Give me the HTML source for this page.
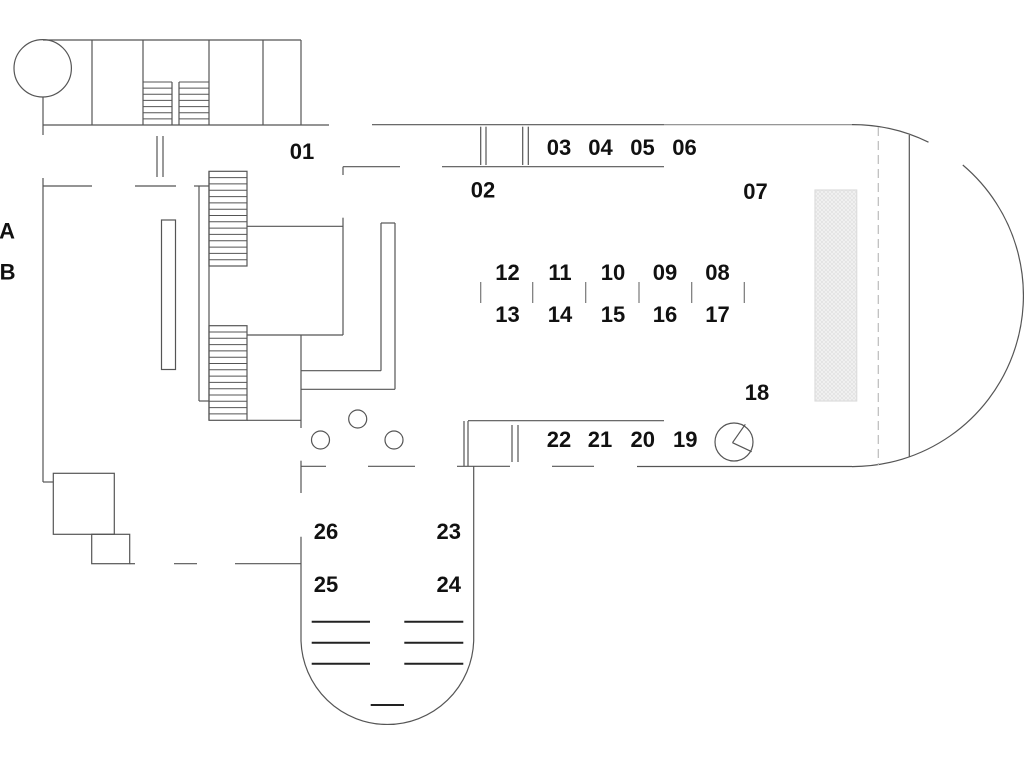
<!DOCTYPE html>
<html><head><meta charset="utf-8"><style>
html,body{margin:0;padding:0;background:#fff;}
svg{display:block;}
text{font-family:"Liberation Sans","DejaVu Sans",sans-serif;font-weight:bold;font-size:22px;fill:#111;text-anchor:middle;}
</style></head><body>
<svg width="1024" height="768" viewBox="0 0 1024 768" xmlns="http://www.w3.org/2000/svg">
<defs>
<pattern id="hatch" width="4" height="4" patternUnits="userSpaceOnUse">
<rect width="4" height="4" fill="#f2f2f2"/>
<path d="M0 0L4 4M4 0L0 4" stroke="#dedede" stroke-width="0.6"/>
</pattern>
</defs>
<g fill="none" stroke="#555" stroke-width="1.2">
<!-- top building -->
<circle cx="42.7" cy="68.3" r="28.7"/>
<line x1="43" y1="40" x2="301" y2="40"/>
<line x1="92" y1="40" x2="92" y2="125"/>
<line x1="143" y1="40" x2="143" y2="125"/>
<line x1="209" y1="40" x2="209" y2="125"/>
<line x1="263" y1="40" x2="263" y2="125"/>
<line x1="301" y1="40" x2="301" y2="125"/>
<line x1="43" y1="125" x2="329" y2="125"/>
<line x1="43" y1="97" x2="43" y2="135"/>
<!-- top stairs -->
<line x1="172" y1="82" x2="172" y2="125"/>
<line x1="179" y1="82" x2="179" y2="125"/>
<g stroke-width="1">
<line x1="143" y1="82" x2="172" y2="82"/><line x1="143" y1="88.1" x2="172" y2="88.1"/><line x1="143" y1="94.3" x2="172" y2="94.3"/><line x1="143" y1="100.4" x2="172" y2="100.4"/><line x1="143" y1="106.6" x2="172" y2="106.6"/><line x1="143" y1="112.7" x2="172" y2="112.7"/><line x1="143" y1="118.9" x2="172" y2="118.9"/>
<line x1="179" y1="82" x2="209" y2="82"/><line x1="179" y1="88.1" x2="209" y2="88.1"/><line x1="179" y1="94.3" x2="209" y2="94.3"/><line x1="179" y1="100.4" x2="209" y2="100.4"/><line x1="179" y1="106.6" x2="209" y2="106.6"/><line x1="179" y1="112.7" x2="209" y2="112.7"/><line x1="179" y1="118.9" x2="209" y2="118.9"/>
</g>
<!-- double lines -->
<line x1="157" y1="136" x2="157" y2="177"/>
<line x1="163" y1="136" x2="163" y2="177"/>
<!-- dashed wall y=186 -->
<line x1="43" y1="186" x2="92" y2="186"/>
<line x1="135" y1="186" x2="176" y2="186"/>
<line x1="194" y1="186" x2="209" y2="186"/>
<line x1="43" y1="178" x2="43" y2="482"/>
<line x1="43" y1="482" x2="53" y2="482"/>
<!-- thin rect -->
<rect x="161.5" y="220" width="14" height="149.5"/>
<!-- stair column -->
<line x1="199" y1="186" x2="199" y2="401"/>
<line x1="199" y1="401" x2="209" y2="401"/>
<line x1="209" y1="171.3" x2="209" y2="420.3"/>
<rect x="209" y="171.3" width="38" height="94.7"/>
<rect x="209" y="325.7" width="38" height="94.6"/>
<g stroke-width="1">
<line x1="209" y1="177.6" x2="247" y2="177.6"/><line x1="209" y1="183.9" x2="247" y2="183.9"/><line x1="209" y1="190.2" x2="247" y2="190.2"/><line x1="209" y1="196.6" x2="247" y2="196.6"/><line x1="209" y1="202.9" x2="247" y2="202.9"/><line x1="209" y1="209.2" x2="247" y2="209.2"/><line x1="209" y1="215.5" x2="247" y2="215.5"/><line x1="209" y1="221.8" x2="247" y2="221.8"/><line x1="209" y1="228.1" x2="247" y2="228.1"/><line x1="209" y1="234.4" x2="247" y2="234.4"/><line x1="209" y1="240.7" x2="247" y2="240.7"/><line x1="209" y1="247.1" x2="247" y2="247.1"/><line x1="209" y1="253.4" x2="247" y2="253.4"/><line x1="209" y1="259.7" x2="247" y2="259.7"/>
<line x1="209" y1="332" x2="247" y2="332"/><line x1="209" y1="338.3" x2="247" y2="338.3"/><line x1="209" y1="344.6" x2="247" y2="344.6"/><line x1="209" y1="350.9" x2="247" y2="350.9"/><line x1="209" y1="357.2" x2="247" y2="357.2"/><line x1="209" y1="363.5" x2="247" y2="363.5"/><line x1="209" y1="369.8" x2="247" y2="369.8"/><line x1="209" y1="376.1" x2="247" y2="376.1"/><line x1="209" y1="382.4" x2="247" y2="382.4"/><line x1="209" y1="388.7" x2="247" y2="388.7"/><line x1="209" y1="395" x2="247" y2="395"/><line x1="209" y1="401.3" x2="247" y2="401.3"/><line x1="209" y1="407.6" x2="247" y2="407.6"/><line x1="209" y1="413.9" x2="247" y2="413.9"/>
</g>
<!-- central block -->
<line x1="247" y1="226.3" x2="343" y2="226.3"/>
<line x1="343" y1="217.7" x2="343" y2="335"/>
<line x1="247" y1="335" x2="343" y2="335"/>
<line x1="343" y1="166.7" x2="343" y2="175"/>
<line x1="343" y1="166.7" x2="400" y2="166.7"/>
<line x1="301" y1="335" x2="301" y2="428"/>
<line x1="247" y1="420.3" x2="301" y2="420.3"/>
<line x1="301" y1="370.7" x2="381" y2="370.7"/>
<line x1="381" y1="223" x2="381" y2="370.7"/>
<line x1="381" y1="223" x2="395" y2="223"/>
<line x1="395" y1="223" x2="395" y2="389.3"/>
<line x1="301" y1="389.3" x2="395" y2="389.3"/>
<circle cx="357.7" cy="419" r="9"/>
<circle cx="320.5" cy="440" r="9"/>
<circle cx="394" cy="440" r="9"/>
<!-- main hall -->
<line x1="372" y1="124.7" x2="664" y2="124.7"/>
<line x1="664" y1="124.7" x2="852" y2="124.7" stroke="#888"/>
<line x1="442" y1="166.7" x2="664" y2="166.7"/>
<line x1="480.7" y1="126.7" x2="480.7" y2="165"/>
<line x1="486" y1="126.7" x2="486" y2="165"/>
<line x1="522.7" y1="126.7" x2="522.7" y2="165"/>
<line x1="528.3" y1="126.7" x2="528.3" y2="165"/>
<!-- ticks -->
<line x1="480.7" y1="282" x2="480.7" y2="303" stroke="#777"/>
<line x1="532.7" y1="282" x2="532.7" y2="303" stroke="#777"/>
<line x1="585.7" y1="282" x2="585.7" y2="303" stroke="#777"/>
<line x1="639" y1="282" x2="639" y2="303" stroke="#777"/>
<line x1="691.7" y1="282" x2="691.7" y2="303" stroke="#777"/>
<line x1="744.3" y1="282" x2="744.3" y2="303" stroke="#777"/>
<!-- lower hall wall -->
<line x1="468" y1="420.7" x2="664" y2="420.7"/>
<line x1="464" y1="421" x2="464" y2="466"/>
<line x1="468" y1="421" x2="468" y2="466"/>
<line x1="512" y1="425" x2="512" y2="462"/>
<line x1="518" y1="425" x2="518" y2="462"/>
<line x1="301" y1="466.3" x2="326" y2="466.3"/>
<line x1="368" y1="466.3" x2="415" y2="466.3"/>
<line x1="457" y1="466.3" x2="510" y2="466.3"/>
<line x1="552" y1="466.3" x2="594" y2="466.3"/>
<line x1="637" y1="466.5" x2="852" y2="466.5"/>
<!-- clock -->
<circle cx="734" cy="442" r="19"/>
<line x1="732.5" y1="442.7" x2="745.3" y2="424.3"/>
<line x1="732.5" y1="442.7" x2="751.7" y2="451.7"/>
<!-- right end -->
<path d="M852 124.6 A171 171 0 0 1 928.5 142.2"/>
<path d="M962.8 165 A171 171 0 0 1 852 466.6"/>
<line x1="909.3" y1="135" x2="909.3" y2="457"/>
<line x1="878.3" y1="127" x2="878.3" y2="465" stroke="#bbb" stroke-dasharray="9 5"/>
<rect x="815" y="190" width="41.7" height="211" fill="url(#hatch)" stroke="#ddd"/>
<!-- bottom left -->
<rect x="53.3" y="473.3" width="61" height="61"/>
<rect x="91.7" y="534.3" width="38" height="29.4"/>
<line x1="129.7" y1="563.7" x2="135" y2="563.7"/>
<line x1="174" y1="563.7" x2="197" y2="563.7"/>
<line x1="235" y1="563.7" x2="301" y2="563.7"/>
<!-- bottom corridor -->
<line x1="301" y1="460.7" x2="301" y2="493"/>
<path d="M301 536.7 L301 641 A86.4 86.4 0 0 0 473.7 641 L473.7 466.3"/>
</g>
<g stroke="#222" stroke-width="2">
<line x1="311.7" y1="621.7" x2="370" y2="621.7"/>
<line x1="311.7" y1="642.7" x2="370" y2="642.7"/>
<line x1="311.7" y1="663.7" x2="370" y2="663.7"/>
<line x1="404.3" y1="621.7" x2="463.3" y2="621.7"/>
<line x1="404.3" y1="642.7" x2="463.3" y2="642.7"/>
<line x1="404.3" y1="663.7" x2="463.3" y2="663.7"/>
<line x1="370.7" y1="705" x2="404" y2="705"/>
</g>
<!-- labels -->
<text x="302" y="159">01</text>
<text x="483" y="197.5">02</text>
<text x="559" y="155">03</text>
<text x="600.5" y="155">04</text>
<text x="642.5" y="155">05</text>
<text x="684.5" y="155">06</text>
<text x="755.5" y="199">07</text>
<text x="507.5" y="280">12</text>
<text x="560" y="280">11</text>
<text x="613" y="280">10</text>
<text x="665" y="280">09</text>
<text x="717.5" y="280">08</text>
<text x="507.5" y="322">13</text>
<text x="560" y="322">14</text>
<text x="613" y="322">15</text>
<text x="665" y="322">16</text>
<text x="717.5" y="322">17</text>
<text x="757" y="400">18</text>
<text x="559" y="447">22</text>
<text x="600" y="447">21</text>
<text x="642.7" y="447">20</text>
<text x="685.3" y="447">19</text>
<text x="326" y="539">26</text>
<text x="448.7" y="539">23</text>
<text x="326" y="592">25</text>
<text x="448.7" y="592">24</text>
<text x="7" y="238.5">A</text>
<text x="7.5" y="279.5">B</text>
</svg>
</body></html>
